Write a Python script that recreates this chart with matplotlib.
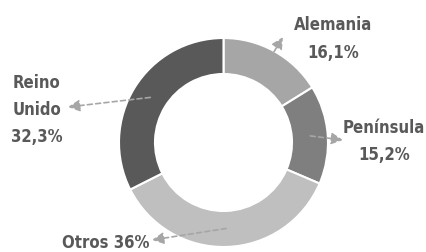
import numpy as np
import matplotlib.pyplot as plt

labels = ['Alemania', 'Península', 'Otros', 'Reino\nUnido']
values = [16.1, 15.2, 36.0, 32.3]
pct_text = ['16,1%', '15,2%', '36%', '32,3%']
colors = ['#a6a6a6', '#7f7f7f', '#bfbfbf', '#595959']

plt.rcParams['font.family'] = ['DejaVu Sans']

fig = plt.figure(figsize=(4.27, 2.52), dpi=100)
ax = fig.add_axes([0, 0, 1, 1])

cx, cy, R = 223.5, 109.5, 104.5
wedges, _ = ax.pie(values, colors=colors, startangle=90, counterclock=False,
                   center=(cx, cy), radius=R, frame=True,
                   wedgeprops=dict(width=36, edgecolor='white', linewidth=1.5))
ax.set_xlim(0, 427)
ax.set_ylim(0, 252)
ax.axis('off')

# arrow start radius and tip position for each slice
start_r = [104, 87, 86, 86]
tips = [(283, 215), (343, 112), (152, 12), (68, 145)]
for w, r0, tip in zip(wedges, start_r, tips):
    ang = np.deg2rad((w.theta1 + w.theta2) / 2)
    start = (cx + r0 * np.cos(ang), cy + r0 * np.sin(ang))
    ax.annotate('', xy=tip, xytext=start,
                arrowprops=dict(arrowstyle='-|>,head_length=0.7,head_width=0.35',
                                color='#a6a6a6', lw=1.2, linestyle=(0, (3, 2)),
                                shrinkA=0, shrinkB=0))

tc = '#595959'
kw = dict(ha='center', va='center', fontsize=12, fontweight='bold',
          fontstretch='condensed', color=tc, linespacing=1.65)
ax.text(333, 213, 'Alemania\n16,1%', **kw)
ax.text(384, 110.5, 'Península\n15,2%', **kw)
ax.text(37, 142, 'Reino\nUnido\n32,3%', **kw)
ax.text(106, 9, 'Otros 36%', **kw)

fig.savefig('out.png', dpi=100)
